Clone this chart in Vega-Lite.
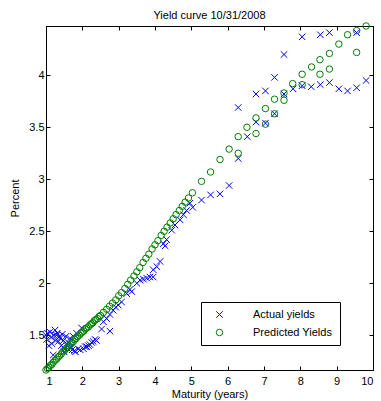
{
  "$schema": "https://vega.github.io/schema/vega-lite/v6.json",
  "width": 327,
  "height": 344,
  "autosize": "none",
  "padding": {"left": 46, "top": 26, "right": 8, "bottom": 31},
  "background": "white",
  "title": {"text": "Yield curve 10/31/2008", "fontSize": 11, "fontWeight": "normal", "font": "Liberation Sans", "color": "#000", "offset": 0},
  "config": {
    "view": {"stroke": "#000", "strokeWidth": 1},
    "font": "Liberation Sans",
    "axis": {"grid": false, "domainColor": "#000", "tickColor": "#000", "labelColor": "#000", "labelFontSize": 11, "labelFont": "Liberation Sans", "titleFontSize": 11, "titleFontWeight": "normal", "titleFont": "Liberation Sans", "titleColor": "#000", "tickSize": -4, "labelPadding": 6}
  },
  "datasets": {
    "yields": [
      {"m": 1.00, "y": 1.50, "s": "Actual yields"},
      {"m": 1.02, "y": 1.46, "s": "Actual yields"},
      {"m": 1.04, "y": 1.52, "s": "Actual yields"},
      {"m": 1.08, "y": 1.40, "s": "Actual yields"},
      {"m": 1.11, "y": 1.53, "s": "Actual yields"},
      {"m": 1.14, "y": 1.48, "s": "Actual yields"},
      {"m": 1.16, "y": 1.42, "s": "Actual yields"},
      {"m": 1.20, "y": 1.31, "s": "Actual yields"},
      {"m": 1.22, "y": 1.50, "s": "Actual yields"},
      {"m": 1.25, "y": 1.55, "s": "Actual yields"},
      {"m": 1.27, "y": 1.45, "s": "Actual yields"},
      {"m": 1.29, "y": 1.50, "s": "Actual yields"},
      {"m": 1.31, "y": 1.52, "s": "Actual yields"},
      {"m": 1.34, "y": 1.44, "s": "Actual yields"},
      {"m": 1.37, "y": 1.49, "s": "Actual yields"},
      {"m": 1.39, "y": 1.47, "s": "Actual yields"},
      {"m": 1.42, "y": 1.40, "s": "Actual yields"},
      {"m": 1.45, "y": 1.51, "s": "Actual yields"},
      {"m": 1.48, "y": 1.45, "s": "Actual yields"},
      {"m": 1.50, "y": 1.34, "s": "Actual yields"},
      {"m": 1.52, "y": 1.37, "s": "Actual yields"},
      {"m": 1.55, "y": 1.49, "s": "Actual yields"},
      {"m": 1.58, "y": 1.40, "s": "Actual yields"},
      {"m": 1.61, "y": 1.43, "s": "Actual yields"},
      {"m": 1.63, "y": 1.36, "s": "Actual yields"},
      {"m": 1.66, "y": 1.47, "s": "Actual yields"},
      {"m": 1.70, "y": 1.38, "s": "Actual yields"},
      {"m": 1.72, "y": 1.36, "s": "Actual yields"},
      {"m": 1.75, "y": 1.49, "s": "Actual yields"},
      {"m": 1.78, "y": 1.35, "s": "Actual yields"},
      {"m": 1.81, "y": 1.34, "s": "Actual yields"},
      {"m": 1.84, "y": 1.52, "s": "Actual yields"},
      {"m": 1.88, "y": 1.37, "s": "Actual yields"},
      {"m": 1.94, "y": 1.36, "s": "Actual yields"},
      {"m": 1.98, "y": 1.57, "s": "Actual yields"},
      {"m": 2.03, "y": 1.37, "s": "Actual yields"},
      {"m": 2.08, "y": 1.39, "s": "Actual yields"},
      {"m": 2.12, "y": 1.39, "s": "Actual yields"},
      {"m": 2.17, "y": 1.40, "s": "Actual yields"},
      {"m": 2.21, "y": 1.41, "s": "Actual yields"},
      {"m": 2.26, "y": 1.43, "s": "Actual yields"},
      {"m": 2.30, "y": 1.44, "s": "Actual yields"},
      {"m": 2.35, "y": 1.46, "s": "Actual yields"},
      {"m": 2.39, "y": 1.45, "s": "Actual yields"},
      {"m": 2.53, "y": 1.56, "s": "Actual yields"},
      {"m": 2.58, "y": 1.63, "s": "Actual yields"},
      {"m": 2.67, "y": 1.66, "s": "Actual yields"},
      {"m": 2.76, "y": 1.54, "s": "Actual yields"},
      {"m": 2.76, "y": 1.70, "s": "Actual yields"},
      {"m": 2.85, "y": 1.74, "s": "Actual yields"},
      {"m": 2.92, "y": 1.77, "s": "Actual yields"},
      {"m": 2.99, "y": 1.79, "s": "Actual yields"},
      {"m": 3.08, "y": 1.82, "s": "Actual yields"},
      {"m": 3.22, "y": 1.90, "s": "Actual yields"},
      {"m": 3.31, "y": 1.94, "s": "Actual yields"},
      {"m": 3.36, "y": 1.92, "s": "Actual yields"},
      {"m": 3.50, "y": 2.00, "s": "Actual yields"},
      {"m": 3.59, "y": 2.03, "s": "Actual yields"},
      {"m": 3.68, "y": 2.04, "s": "Actual yields"},
      {"m": 3.77, "y": 2.05, "s": "Actual yields"},
      {"m": 3.86, "y": 2.06, "s": "Actual yields"},
      {"m": 3.95, "y": 2.06, "s": "Actual yields"},
      {"m": 3.95, "y": 2.13, "s": "Actual yields"},
      {"m": 4.05, "y": 2.16, "s": "Actual yields"},
      {"m": 4.14, "y": 2.21, "s": "Actual yields"},
      {"m": 4.23, "y": 2.38, "s": "Actual yields"},
      {"m": 4.28, "y": 2.36, "s": "Actual yields"},
      {"m": 4.32, "y": 2.42, "s": "Actual yields"},
      {"m": 4.46, "y": 2.51, "s": "Actual yields"},
      {"m": 4.55, "y": 2.56, "s": "Actual yields"},
      {"m": 4.69, "y": 2.61, "s": "Actual yields"},
      {"m": 4.78, "y": 2.66, "s": "Actual yields"},
      {"m": 4.87, "y": 2.70, "s": "Actual yields"},
      {"m": 4.96, "y": 2.77, "s": "Actual yields"},
      {"m": 5.04, "y": 2.73, "s": "Actual yields"},
      {"m": 5.28, "y": 2.80, "s": "Actual yields"},
      {"m": 5.53, "y": 2.85, "s": "Actual yields"},
      {"m": 5.79, "y": 2.86, "s": "Actual yields"},
      {"m": 6.04, "y": 2.94, "s": "Actual yields"},
      {"m": 6.29, "y": 3.69, "s": "Actual yields"},
      {"m": 6.29, "y": 3.20, "s": "Actual yields"},
      {"m": 6.54, "y": 3.41, "s": "Actual yields"},
      {"m": 6.78, "y": 3.82, "s": "Actual yields"},
      {"m": 6.78, "y": 3.55, "s": "Actual yields"},
      {"m": 7.04, "y": 3.85, "s": "Actual yields"},
      {"m": 7.04, "y": 3.54, "s": "Actual yields"},
      {"m": 7.29, "y": 3.98, "s": "Actual yields"},
      {"m": 7.29, "y": 3.63, "s": "Actual yields"},
      {"m": 7.55, "y": 4.20, "s": "Actual yields"},
      {"m": 7.55, "y": 3.82, "s": "Actual yields"},
      {"m": 7.80, "y": 3.87, "s": "Actual yields"},
      {"m": 8.05, "y": 4.37, "s": "Actual yields"},
      {"m": 8.05, "y": 3.90, "s": "Actual yields"},
      {"m": 8.30, "y": 3.89, "s": "Actual yields"},
      {"m": 8.55, "y": 4.39, "s": "Actual yields"},
      {"m": 8.55, "y": 3.91, "s": "Actual yields"},
      {"m": 8.80, "y": 4.41, "s": "Actual yields"},
      {"m": 8.80, "y": 3.93, "s": "Actual yields"},
      {"m": 9.06, "y": 3.87, "s": "Actual yields"},
      {"m": 9.30, "y": 3.85, "s": "Actual yields"},
      {"m": 9.55, "y": 4.41, "s": "Actual yields"},
      {"m": 9.55, "y": 3.88, "s": "Actual yields"},
      {"m": 9.81, "y": 3.95, "s": "Actual yields"},
      {"m": 1.00, "y": 1.166, "s": "Predicted Yields"},
      {"m": 1.04, "y": 1.18, "s": "Predicted Yields"},
      {"m": 1.08, "y": 1.19, "s": "Predicted Yields"},
      {"m": 1.12, "y": 1.21, "s": "Predicted Yields"},
      {"m": 1.16, "y": 1.22, "s": "Predicted Yields"},
      {"m": 1.20, "y": 1.24, "s": "Predicted Yields"},
      {"m": 1.25, "y": 1.26, "s": "Predicted Yields"},
      {"m": 1.29, "y": 1.27, "s": "Predicted Yields"},
      {"m": 1.33, "y": 1.29, "s": "Predicted Yields"},
      {"m": 1.37, "y": 1.30, "s": "Predicted Yields"},
      {"m": 1.42, "y": 1.32, "s": "Predicted Yields"},
      {"m": 1.46, "y": 1.34, "s": "Predicted Yields"},
      {"m": 1.50, "y": 1.35, "s": "Predicted Yields"},
      {"m": 1.54, "y": 1.37, "s": "Predicted Yields"},
      {"m": 1.58, "y": 1.38, "s": "Predicted Yields"},
      {"m": 1.62, "y": 1.40, "s": "Predicted Yields"},
      {"m": 1.67, "y": 1.41, "s": "Predicted Yields"},
      {"m": 1.71, "y": 1.43, "s": "Predicted Yields"},
      {"m": 1.75, "y": 1.44, "s": "Predicted Yields"},
      {"m": 1.79, "y": 1.46, "s": "Predicted Yields"},
      {"m": 1.83, "y": 1.47, "s": "Predicted Yields"},
      {"m": 1.87, "y": 1.49, "s": "Predicted Yields"},
      {"m": 1.92, "y": 1.50, "s": "Predicted Yields"},
      {"m": 1.96, "y": 1.52, "s": "Predicted Yields"},
      {"m": 2.00, "y": 1.53, "s": "Predicted Yields"},
      {"m": 2.04, "y": 1.54, "s": "Predicted Yields"},
      {"m": 2.08, "y": 1.56, "s": "Predicted Yields"},
      {"m": 2.12, "y": 1.57, "s": "Predicted Yields"},
      {"m": 2.17, "y": 1.58, "s": "Predicted Yields"},
      {"m": 2.21, "y": 1.60, "s": "Predicted Yields"},
      {"m": 2.25, "y": 1.61, "s": "Predicted Yields"},
      {"m": 2.29, "y": 1.62, "s": "Predicted Yields"},
      {"m": 2.33, "y": 1.64, "s": "Predicted Yields"},
      {"m": 2.37, "y": 1.65, "s": "Predicted Yields"},
      {"m": 2.42, "y": 1.66, "s": "Predicted Yields"},
      {"m": 2.46, "y": 1.68, "s": "Predicted Yields"},
      {"m": 2.50, "y": 1.69, "s": "Predicted Yields"},
      {"m": 2.58, "y": 1.72, "s": "Predicted Yields"},
      {"m": 2.67, "y": 1.75, "s": "Predicted Yields"},
      {"m": 2.75, "y": 1.78, "s": "Predicted Yields"},
      {"m": 2.83, "y": 1.81, "s": "Predicted Yields"},
      {"m": 2.92, "y": 1.84, "s": "Predicted Yields"},
      {"m": 3.00, "y": 1.88, "s": "Predicted Yields"},
      {"m": 3.08, "y": 1.91, "s": "Predicted Yields"},
      {"m": 3.17, "y": 1.95, "s": "Predicted Yields"},
      {"m": 3.25, "y": 1.99, "s": "Predicted Yields"},
      {"m": 3.33, "y": 2.03, "s": "Predicted Yields"},
      {"m": 3.42, "y": 2.07, "s": "Predicted Yields"},
      {"m": 3.50, "y": 2.11, "s": "Predicted Yields"},
      {"m": 3.58, "y": 2.15, "s": "Predicted Yields"},
      {"m": 3.67, "y": 2.20, "s": "Predicted Yields"},
      {"m": 3.75, "y": 2.24, "s": "Predicted Yields"},
      {"m": 3.83, "y": 2.28, "s": "Predicted Yields"},
      {"m": 3.92, "y": 2.33, "s": "Predicted Yields"},
      {"m": 4.00, "y": 2.37, "s": "Predicted Yields"},
      {"m": 4.08, "y": 2.41, "s": "Predicted Yields"},
      {"m": 4.17, "y": 2.46, "s": "Predicted Yields"},
      {"m": 4.25, "y": 2.50, "s": "Predicted Yields"},
      {"m": 4.33, "y": 2.54, "s": "Predicted Yields"},
      {"m": 4.42, "y": 2.58, "s": "Predicted Yields"},
      {"m": 4.50, "y": 2.62, "s": "Predicted Yields"},
      {"m": 4.58, "y": 2.66, "s": "Predicted Yields"},
      {"m": 4.67, "y": 2.70, "s": "Predicted Yields"},
      {"m": 4.75, "y": 2.74, "s": "Predicted Yields"},
      {"m": 4.83, "y": 2.78, "s": "Predicted Yields"},
      {"m": 4.92, "y": 2.82, "s": "Predicted Yields"},
      {"m": 5.03, "y": 2.87, "s": "Predicted Yields"},
      {"m": 5.28, "y": 2.98, "s": "Predicted Yields"},
      {"m": 5.53, "y": 3.07, "s": "Predicted Yields"},
      {"m": 5.79, "y": 3.19, "s": "Predicted Yields"},
      {"m": 6.04, "y": 3.29, "s": "Predicted Yields"},
      {"m": 6.29, "y": 3.41, "s": "Predicted Yields"},
      {"m": 6.29, "y": 3.25, "s": "Predicted Yields"},
      {"m": 6.53, "y": 3.50, "s": "Predicted Yields"},
      {"m": 6.78, "y": 3.59, "s": "Predicted Yields"},
      {"m": 6.78, "y": 3.44, "s": "Predicted Yields"},
      {"m": 7.04, "y": 3.68, "s": "Predicted Yields"},
      {"m": 7.04, "y": 3.53, "s": "Predicted Yields"},
      {"m": 7.29, "y": 3.77, "s": "Predicted Yields"},
      {"m": 7.29, "y": 3.63, "s": "Predicted Yields"},
      {"m": 7.55, "y": 3.83, "s": "Predicted Yields"},
      {"m": 7.55, "y": 3.76, "s": "Predicted Yields"},
      {"m": 7.79, "y": 3.92, "s": "Predicted Yields"},
      {"m": 8.05, "y": 4.01, "s": "Predicted Yields"},
      {"m": 8.05, "y": 3.91, "s": "Predicted Yields"},
      {"m": 8.31, "y": 4.08, "s": "Predicted Yields"},
      {"m": 8.54, "y": 4.15, "s": "Predicted Yields"},
      {"m": 8.54, "y": 4.01, "s": "Predicted Yields"},
      {"m": 8.80, "y": 4.21, "s": "Predicted Yields"},
      {"m": 8.80, "y": 4.06, "s": "Predicted Yields"},
      {"m": 9.06, "y": 4.30, "s": "Predicted Yields"},
      {"m": 9.30, "y": 4.39, "s": "Predicted Yields"},
      {"m": 9.55, "y": 4.43, "s": "Predicted Yields"},
      {"m": 9.55, "y": 4.22, "s": "Predicted Yields"},
      {"m": 9.81, "y": 4.474, "s": "Predicted Yields"}
    ]
  },
  "data": {"name": "yields"},
  "layer": [
    {
      "mark": {"type": "point", "filled": false, "strokeWidth": 1, "size": 42, "opacity": 1, "clip": false},
      "encoding": {
        "x": {"field": "m", "type": "quantitative", "scale": {"domain": [1, 10], "nice": false, "zero": false},
          "axis": {"title": "Maturity (years)", "values": [1, 2, 3, 4, 5, 6, 7, 8, 9, 10], "format": "d", "labelPadding": 9, "titlePadding": 2}},
        "y": {"field": "y", "type": "quantitative", "scale": {"domain": [1.166, 4.474], "nice": false, "zero": false},
          "axis": {"title": "Percent", "values": [1.5, 2, 2.5, 3, 3.5, 4], "format": "~g", "titlePadding": 8}},
        "color": {"field": "s", "type": "nominal",
          "scale": {"domain": ["Actual yields", "Predicted Yields"], "range": ["#0000ff", "#008000"]},
          "legend": {"title": null, "orient": "none", "legendX": 155, "legendY": 276, "strokeColor": "#000", "fillColor": "#fff", "padding": 7, "symbolOffset": 6, "labelOffset": 28, "rowPadding": 6, "labelFontSize": 11, "labelFont": "Liberation Sans", "labelColor": "#000", "symbolSize": 42, "symbolStrokeWidth": 1, "symbolOpacity": 1,
            "labelExpr": "datum.label + '\u00a0\u00a0\u00a0\u00a0\u00a0\u00a0\u00a0\u00a0\u00a0\u00a0'",
            "encode": {"symbols": {"update": {"stroke": {"scale": "color", "field": "value"}}}}}},
        "shape": {"field": "s", "type": "nominal",
          "scale": {"domain": ["Actual yields", "Predicted Yields"], "range": ["M-1,-1L1,1M-1,1L1,-1", "circle"]}}
      }
    },
    {
      "mark": {"type": "point", "opacity": 0},
      "encoding": {
        "x": {"field": "m", "type": "quantitative", "axis": {"orient": "top", "labels": false, "title": null, "values": [1, 2, 3, 4, 5, 6, 7, 8, 9, 10]}},
        "y": {"field": "y", "type": "quantitative", "axis": {"orient": "right", "labels": false, "title": null, "values": [1.5, 2, 2.5, 3, 3.5, 4]}}
      }
    }
  ],
  "resolve": {"axis": {"x": "independent", "y": "independent"}}
}
